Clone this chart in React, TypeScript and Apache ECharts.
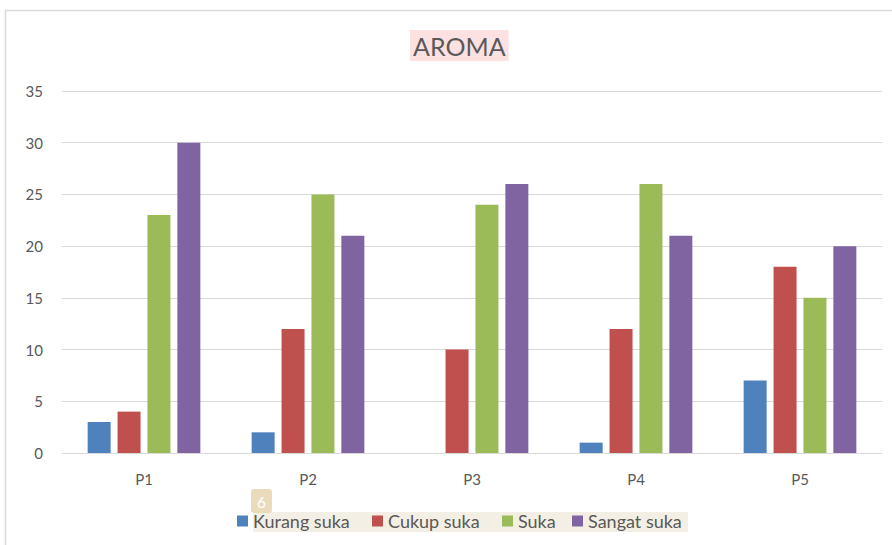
import React, { useEffect, useRef } from "react";
import * as echarts from "echarts";

const categories = ["P1", "P2", "P3", "P4", "P5"];
const seriesNames = ["Kurang suka", "Cukup suka", "Suka", "Sangat suka"];
const kurangSuka = [3, 2, 0, 1, 7];
const cukupSuka = [4, 12, 10, 12, 18];
const suka = [23, 25, 24, 26, 15];
const sangatSuka = [30, 21, 26, 21, 20];
const colors = ["#4F81BD", "#C0504D", "#9BBB59", "#8064A2"];
const legendLefts = [237, 372, 502, 572];

const FONT = "Lato, 'Open Sans', sans-serif";

export default function App() {
  const ref = useRef<HTMLDivElement>(null);
  useEffect(() => {
    const chart = echarts.init(ref.current!, null, { renderer: "svg" });
    const values = [kurangSuka, cukupSuka, suka, sangatSuka];
    chart.setOption({
      animation: false,
      textStyle: { fontFamily: FONT },
      title: {
        text: "AROMA",
        left: 410,
        top: 30,
        padding: [3, 3, 3, 3],
        backgroundColor: "#fde1e1",
        textStyle: { color: "#595959", fontSize: 25, fontWeight: "normal", fontFamily: FONT },
      },
      grid: { left: 62, right: 10, top: 91, bottom: 92 },
      legend: seriesNames.map((name, i) => ({
        data: [name],
        left: legendLefts[i],
        top: 512,
        padding: 0,
        itemWidth: 11,
        itemHeight: 11,
        icon: "rect",
        selectedMode: false,
        textStyle: { color: "#595959", fontSize: 18, fontFamily: FONT },
      })),
      graphic: [
        { type: "line", shape: { x1: 5, y1: 10.5, x2: 892, y2: 10.5 }, style: { stroke: "#d9d9d9", lineWidth: 1.5 } },
        { type: "line", shape: { x1: 5.5, y1: 10, x2: 5.5, y2: 545 }, style: { stroke: "#d9d9d9", lineWidth: 1.5 } },
        { type: "rect", z: -1, shape: { x: 253, y: 512, width: 435, height: 20 }, style: { fill: "#f4efe4" } },
        { type: "rect", shape: { x: 251, y: 489, width: 21, height: 24, r: 3 }, style: { fill: "#eadbbd" } },
        { type: "text", x: 261.5, y: 501, style: { text: "6", fill: "#ffffff", fontSize: 16, fontFamily: FONT, align: "center", verticalAlign: "middle" } },
      ],
      xAxis: {
        type: "category",
        data: categories,
        axisLine: { lineStyle: { color: "#d9d9d9" } },
        axisTick: { show: false },
        axisLabel: { color: "#595959", fontSize: 15, margin: 18, fontFamily: FONT },
      },
      yAxis: {
        type: "value",
        min: 0,
        max: 35,
        interval: 5,
        axisLine: { show: false },
        axisTick: { show: false },
        axisLabel: { color: "#595959", fontSize: 15, margin: 19, fontFamily: FONT },
        splitLine: { lineStyle: { color: "#d9d9d9" } },
      },
      series: seriesNames.map((name, i) => ({
        name,
        type: "bar",
        data: values[i],
        barWidth: 23,
        barGap: "30%",
        itemStyle: { color: colors[i] },
      })),
    });
    return () => chart.dispose();
  }, []);
  return <div ref={ref} style={{ position: "fixed", left: 0, top: 0, width: 892, height: 545, background: "#fff" }} />;
}
